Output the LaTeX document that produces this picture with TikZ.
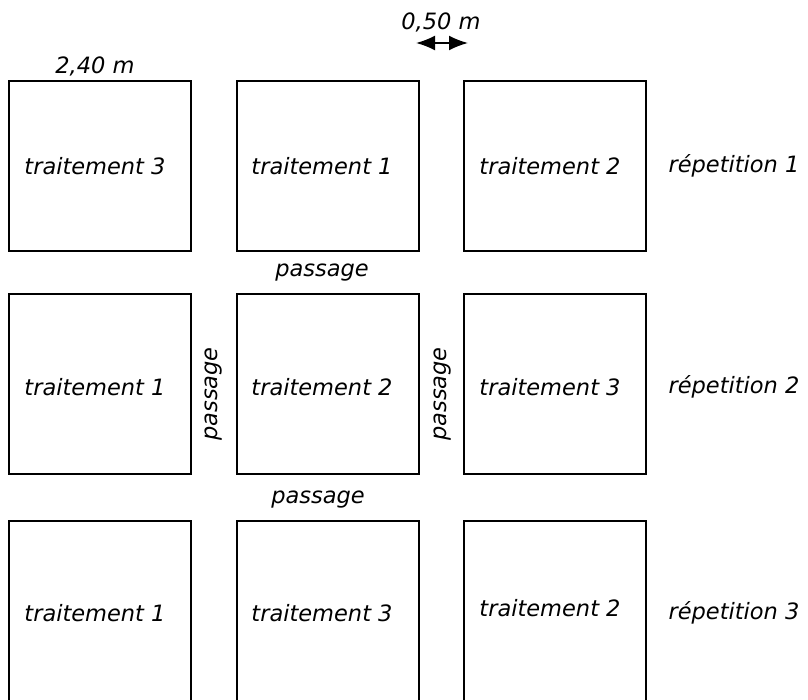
\documentclass[tikz,border=0pt]{standalone}
\usepackage{fontspec}
\setmainfont{DejaVu Sans}
\usetikzlibrary{arrows.meta}

\begin{document}
\begin{tikzpicture}[x=1pt, y=-1pt,
    parcelle/.style={draw, line width=1.6pt},
    lab/.style={font=\itshape\fontsize{22.5}{22.5}\selectfont, inner sep=0pt}]
                \useasboundingbox (0,0) rectangle (808,699);

                % parcelles
                \foreach \x in {9,237,464} {
                    \draw[parcelle] (\x,81) rectangle ++(182,170);
                    \draw[parcelle] (\x,294) rectangle ++(182,180);
                    \draw[parcelle] (\x,705) -- (\x,521) -- ++(182,0) -- ++(0,184);
                }

                % cotes
                \node[lab] (L240) at (95,66) {2,40 m};
                \node[lab] (L050) at (441,22) {0,50 m};
                \coordinate (G) at (416,43);
                \coordinate (D) at (468,43);
                \draw[{Latex[length=19pt,width=15pt]}-{Latex[length=19pt,width=15pt]}, line width=1.8pt] (G) -- (D);

                % traitements
                \node[lab] (R1A) at (95,166) {traitement 3};
                \node[lab] (R1B) at (322,166) {traitement 1};
                \node[lab] (R1C) at (550,166) {traitement 2};
                \node[lab] (R2A) at (95,387) {traitement 1};
                \node[lab] (R2B) at (322,387) {traitement 2};
                \node[lab] (R2C) at (550,387) {traitement 3};
                \node[lab] (R3A) at (95,613) {traitement 1};
                \node[lab] (R3B) at (322,613) {traitement 3};
                \node[lab] (R3C) at (550,608) {traitement 2};

                % repetitions
                \node[lab] (REP1) at (734,166) {répetition 1};
                \node[lab] (REP2) at (734,387) {répetition 2};
                \node[lab] (REP3) at (734,613) {répetition 3};

                % passages
                \node[lab] (PH1) at (322,273) {passage};
                \node[lab] (PH2) at (318,500) {passage};
                \node[lab, rotate=90] (PV1) at (214,394) {passage};
                \node[lab, rotate=90] (PV2) at (443,394) {passage};
            \end{tikzpicture}
\end{document}
